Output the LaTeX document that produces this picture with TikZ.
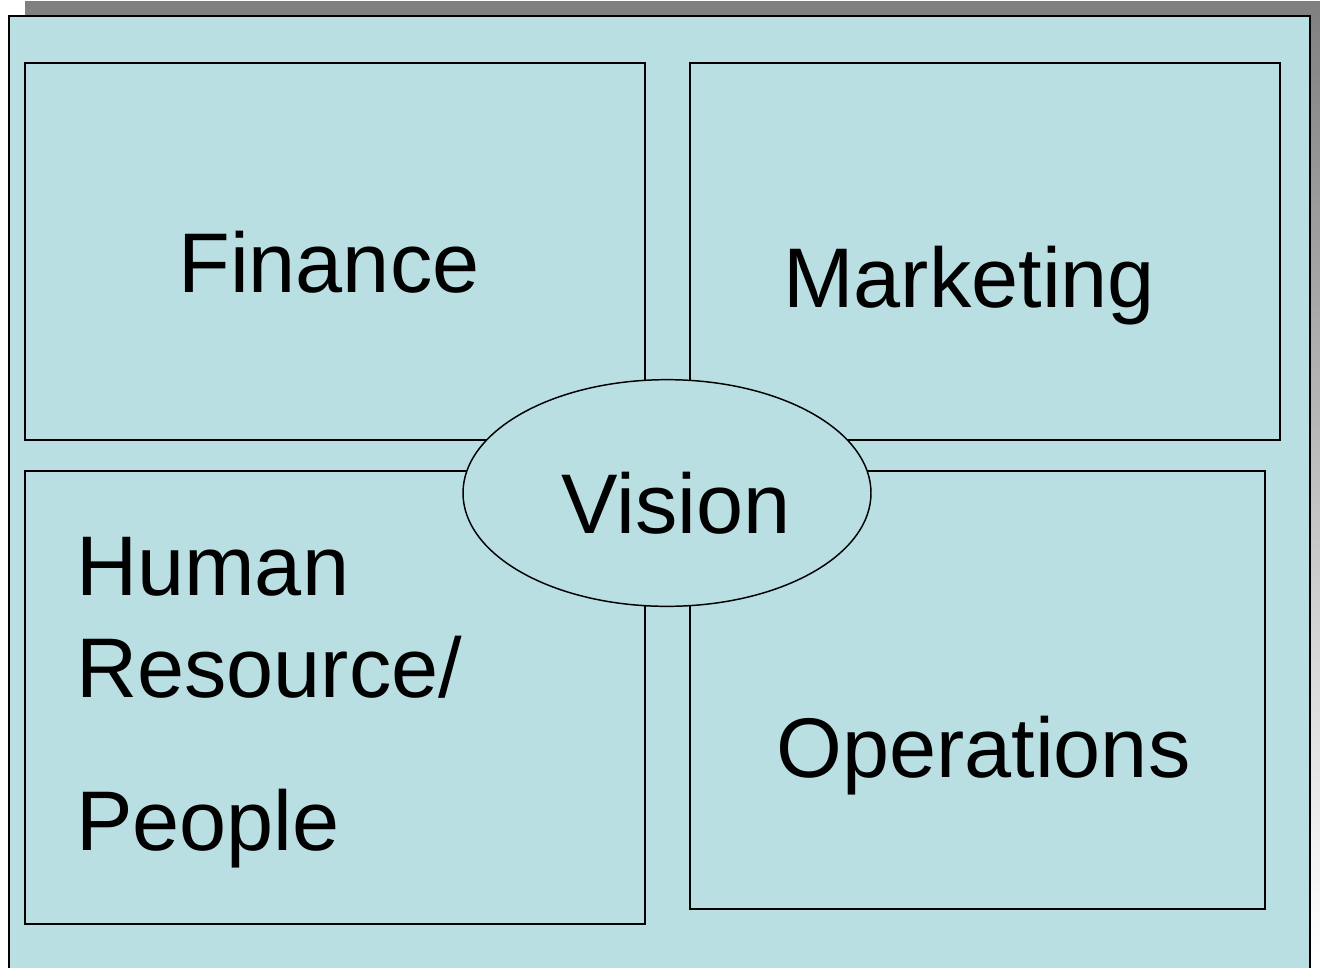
\documentclass[tikz,border=0pt]{standalone}
\usepackage{fontspec}
\setmainfont{Liberation Sans}
\usetikzlibrary{shapes.geometric}
\definecolor{panel}{HTML}{B9DFE3}
\definecolor{shade}{HTML}{A0A0A0}
\tikzset{
	box/.style={draw=black,line width=1.5pt,fill=panel},
	area/.style={draw=black,line width=1.4pt},
	word/.style={anchor=base west,inner sep=0pt,font=\fontsize{63.5}{76}\selectfont}
}
\begin{document}
\begin{tikzpicture}[x=0.75pt,y=-0.75pt,line join=miter]
	\clip (0,0) rectangle (1320,967);
	% shadow and frame
	\fill [shade] (25,1) rectangle (1320,955);
	\draw [box] (9,16) rectangle (1310,990);
	% the four areas
	\draw [area] (25,63) rectangle (645,440);
	\draw [area] (690,63) rectangle (1280,440);
	\draw [area] (25,471) rectangle (645,924);
	\draw [area] (690,471) rectangle (1265,909);
	\node [word] (fin) at (178,292) {Finance};
	\node [word] (mkt) at (783,307) {Marketing};
	\node [word] (hr1) at (76,595) {Human};
	\node [word] (hr2) at (76,697) {Resource/};
	\node [word] (hr3) at (76,850) {People};
	\node [word] (ops) at (776,777) {Operations};
	% centre
	\node [ellipse,draw=black,line width=1.1pt,fill=panel,minimum width=306pt,minimum height=170pt,inner sep=0pt,
		font=\fontsize{63.5}{76}\selectfont] (vision) at (667,493) {\raisebox{-30pt}[0pt][0pt]{\hspace{14pt}Vision}};
\end{tikzpicture}
\end{document}
